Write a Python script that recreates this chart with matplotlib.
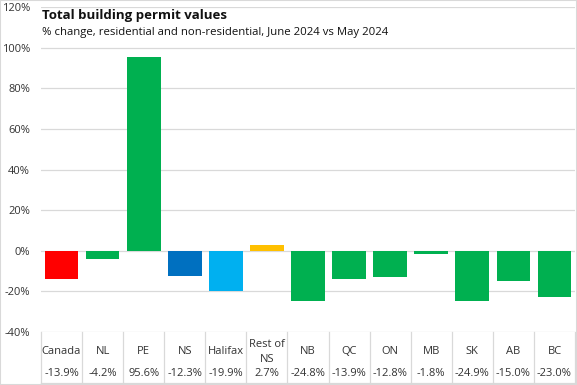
import numpy as np
import matplotlib.pyplot as plt
from matplotlib.transforms import blended_transform_factory
from matplotlib.patches import Rectangle

plt.rcParams.update({
    'font.family': ['Open Sans', 'DejaVu Sans'],
    'font.size': 8,
})

regions = ['Canada', 'NL', 'PE', 'NS', 'Halifax', 'Rest of\nNS', 'NB', 'QC', 'ON', 'MB', 'SK', 'AB', 'BC']
pct_change = [-13.9, -4.2, 95.6, -12.3, -19.9, 2.7, -24.8, -13.9, -12.8, -1.8, -24.9, -15.0, -23.0]
bar_colors = ['#FF0000', '#00B050', '#00B050', '#0070C0', '#00B0F0', '#FFC000',
              '#00B050', '#00B050', '#00B050', '#00B050', '#00B050', '#00B050', '#00B050']
y_ticks = [-40, -20, 0, 20, 40, 60, 80, 100, 120]

W, H = 577, 385
fig = plt.figure(figsize=(W / 100, H / 100), dpi=100)
ax = fig.add_axes([41 / W, (H - 332) / H, 534 / W, (332 - 7) / H])

x = np.arange(len(regions))
ax.bar(x, pct_change, width=0.82, color=bar_colors, zorder=2)

ax.set_xlim(-0.5, len(regions) - 0.5)
ax.set_ylim(-40, 120)
ax.set_yticks(y_ticks)
ax.set_yticklabels([f'{t}%' for t in y_ticks], color='#333333')
ax.tick_params(axis='y', length=0, pad=8)
ax.set_xticks([])
for s in ax.spines.values():
    s.set_visible(False)
for t in y_ticks:
    ax.axhline(t, color='#D9D9D9', linewidth=0.9, zorder=1)

# data table under the plot
trans = blended_transform_factory(ax.transData, ax.transAxes)
ax_h = 332 - 7
row_bot = -51 / ax_h
for b in np.arange(-0.5, len(regions), 1.0):
    ax.plot([b, b], [0, row_bot], transform=trans, color='#D9D9D9', lw=0.9, clip_on=False)
ax.plot([-0.5, len(regions) - 0.5], [row_bot, row_bot], transform=trans,
        color='#D9D9D9', lw=0.9, clip_on=False)
for i, (lab, v) in enumerate(zip(regions, pct_change)):
    ax.text(i, -20 / ax_h, lab, transform=trans, ha='center', va='center',
            color='#333333', fontsize=8, linespacing=1.5)
    ax.text(i, -42 / ax_h, f'{v:.1f}%', transform=trans, ha='center', va='center',
            color='#333333', fontsize=8)

fig.text(42 / W, 1 - 16 / H, 'Total building permit values', fontsize=9.5,
         fontweight='bold', va='center', ha='left', color='#111111')
fig.text(42 / W, 1 - 32 / H, '% change, residential and non-residential, June 2024 vs May 2024',
         fontsize=8.2, va='center', ha='left', color='#111111')

fig.patches.append(Rectangle((0, 0), 1, 1, transform=fig.transFigure, fill=False,
                             edgecolor='#D9D9D9', lw=1.5))

plt.savefig('out.png', dpi=100)
